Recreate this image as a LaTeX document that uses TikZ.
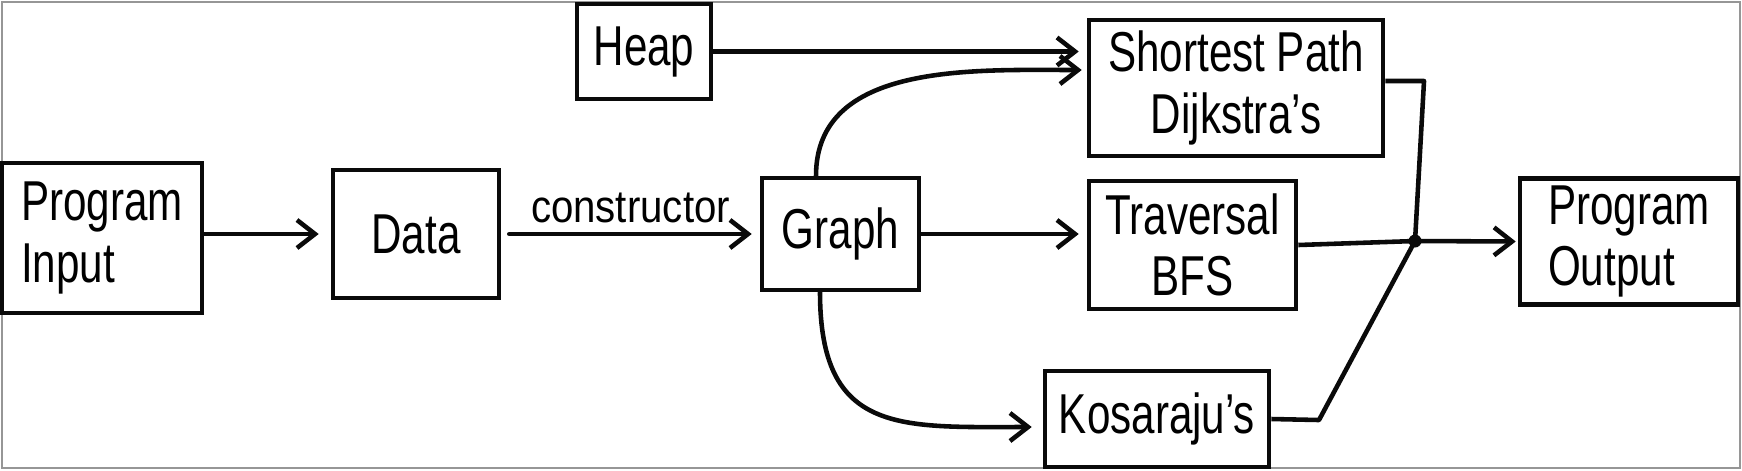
\documentclass[tikz,border=0pt]{standalone}
\usepackage{fontspec}
\setmainfont[FakeStretch=0.75]{Liberation Sans}
\newfontfamily\labelfont[FakeStretch=0.88]{Liberation Sans}
\usepackage{xcolor}
\usetikzlibrary{arrows.meta, positioning}
\definecolor{FrameGray}{RGB}{150,150,150}
\definecolor{InkBlack}{RGB}{10,10,10}

\begin{document}
\begin{tikzpicture}[
  box/.style={draw=InkBlack, line width=1.3pt, inner sep=2pt,
    font=\fontsize{16}{17.5}\selectfont},
  arr/.style={draw=InkBlack, line width=1.3pt, line cap=round,
    -{Straight Barb[length=1.8mm, width=2.8mm]}, shorten >=0.08cm},
  wire/.style={draw=InkBlack, line width=1.3pt, line join=round}
]
\useasboundingbox (0,0) rectangle (17.42,-4.70);
\draw[FrameGray, line width=0.8pt] (0.02,-0.02) rectangle (17.40,-4.68);

% boxes
\node[box, minimum width=2.00cm, minimum height=1.50cm, align=left] (input) at (1.02,-2.38) {Program\\Input};
\node[box, minimum width=1.66cm, minimum height=1.28cm] (data) at (4.16,-2.34) {Data};
\node[box, minimum width=1.34cm, minimum height=0.95cm] (heap) at (6.44,-0.515) {Heap};
\node[box, minimum width=1.57cm, minimum height=1.12cm] (graph) at (8.405,-2.34) {Graph};
\node[box, minimum width=2.94cm, minimum height=1.36cm, align=center] (dijkstra) at (12.36,-0.88) {Shortest Path\\Dijkstra's};
\node[box, minimum width=2.07cm, minimum height=1.28cm, align=center] (bfs) at (11.925,-2.45) {Traversal\\BFS};
\node[box, minimum width=2.24cm, minimum height=0.96cm] (kosaraju) at (11.57,-4.19) {Kosaraju's};
\node[box, minimum width=2.18cm, minimum height=1.23cm, align=left] (output) at (16.29,-2.415) {Program\\Output};

% merge points
\coordinate (join) at (14.15,-2.41);
\coordinate (dbend) at (14.24,-0.81);
\coordinate (kbend) at (13.19,-4.20);

% connectors
\draw[arr, shorten >=0.12cm] (input.east |- data.west) -- (data.west);
\draw[arr, shorten <=0.08cm] (data.east) -- (graph.west)
  node[midway, above, inner sep=2.5pt, font=\labelfont\fontsize{13}{14}\selectfont] {constructor};
\draw[arr] (heap.east) -- (heap.east -| dijkstra.west);
\draw[arr] (graph.east) -- (graph.east -| bfs.west);
\draw[arr, shorten >=0.05cm] ([xshift=-0.245cm]graph.north) to[out=90, in=180] ([yshift=0.18cm]dijkstra.west);
\draw[arr, shorten >=0.11cm] ([xshift=-0.205cm]graph.south) to[out=-90, in=180, looseness=1.4] ([yshift=-0.08cm]kosaraju.west);

\draw[wire] ([yshift=0.07cm]dijkstra.east) -- (dbend) -- (join);
\draw[wire] (bfs.east) -- (join);
\draw[wire] (kosaraju.east) -- (kbend) -- (join);
\draw[arr, shorten >=0.02cm] (join) -- (output.west);
\fill[InkBlack] (join) circle (0.065);
\end{tikzpicture}
\end{document}
